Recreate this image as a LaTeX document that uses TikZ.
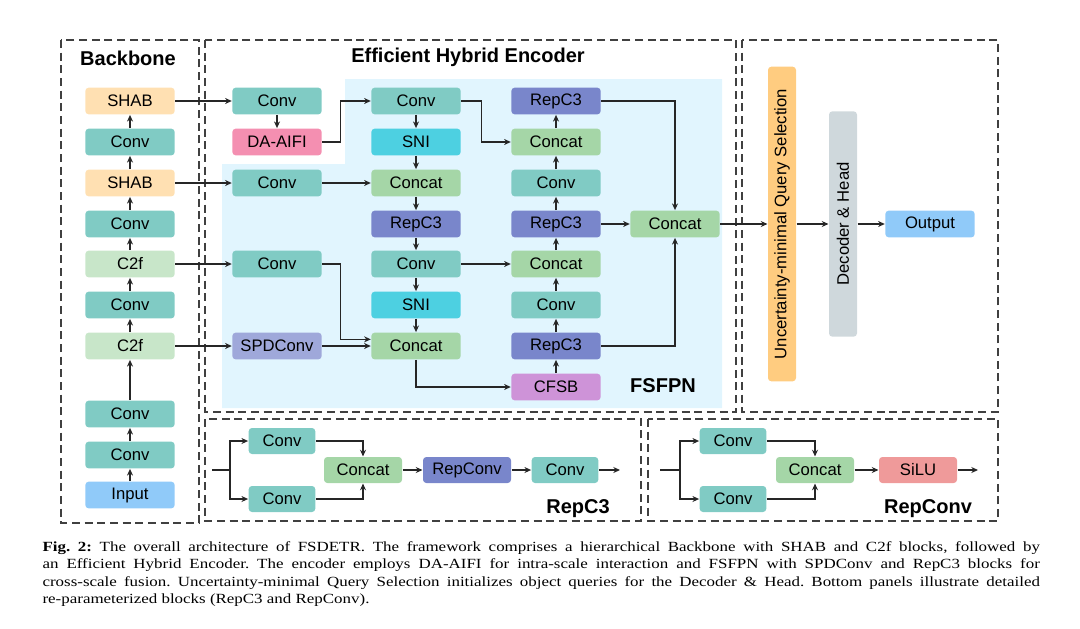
\documentclass[tikz,border=0pt]{standalone}
\usepackage{fontspec}
\setmainfont{Liberation Sans}
\newfontfamily\capfont[FakeStretch=1.21]{Liberation Serif}
\usepackage{tikz}
\usetikzlibrary{arrows.meta}
\usetikzlibrary{calc}
\tikzset{b/.style={rounded corners=2.5pt, minimum width=67pt, minimum height=20pt, inner sep=0pt, font=\fontsize{12.5}{12.5}\selectfont}}
\tikzset{s/.style={b, minimum width=50pt, minimum height=19.5pt}}
\tikzset{pn/.style={draw=black!75, line width=1.1pt, dash pattern=on 6pt off 3.5pt}}
\tikzset{t/.style={font=\bfseries\fontsize{15}{15}\selectfont}}
\definecolor{conv}{HTML}{80CBC4}
\definecolor{shab}{HTML}{FFE0B2}
\definecolor{ctwof}{HTML}{C8E6C9}
\definecolor{inp}{HTML}{90CAF9}
\definecolor{aifi}{HTML}{F48FB1}
\definecolor{sni}{HTML}{4DD0E1}
\definecolor{cat}{HTML}{A5D6A7}
\definecolor{repc}{HTML}{7986CB}
\definecolor{spd}{HTML}{9FA8DA}
\definecolor{cfsb}{HTML}{CE93D8}
\definecolor{uqs}{HTML}{FFCC80}
\definecolor{dec}{HTML}{CFD8DC}
\definecolor{silu}{HTML}{EF9A9A}
\definecolor{fpn}{HTML}{E1F5FE}

\begin{document}
\begin{tikzpicture}[x=0.75pt, y=-0.75pt, >={Stealth[length=5pt,width=4.5pt]}, line width=0.85pt, draw=black!85]
  \useasboundingbox (0,0) rectangle (1080,628);
  \fill [fpn] (345,79)--(722,79)--(722,408)--(222,408)--(222,164)--(345,164)--cycle;
  \draw [pn] (61,40) rectangle (199,523);
  \draw [pn] (205,40) rectangle (736,412);
  \draw [pn] (742,40) rectangle (998,412);
  \draw [pn] (205,419) rectangle (641,521);
  \draw [pn] (648,419) rectangle (998,521);
  \node [t] (tbb) at (128,58) {Backbone};
  \node [t] (tenc) at (468,57) {Efficient Hybrid Encoder};
  \node [t] (tfpn) at (663,386) {FSFPN};
  \node [t] (trc) at (578,509) {RepC3};
  \node [t] (trv) at (928,509) {RepConv};

  \node [b, fill=shab] (bSHABa) at (130,101) {SHAB};
  \node [b, fill=conv] (bConva) at (130,142) {Conv};
  \node [b, fill=shab] (bSHABb) at (130,183) {SHAB};
  \node [b, fill=conv] (bConvb) at (130,224) {Conv};
  \node [b, fill=ctwof] (bC2fa) at (130,264) {C2f};
  \node [b, fill=conv] (bConvc) at (130,305) {Conv};
  \node [b, fill=ctwof] (bC2fb) at (130,346) {C2f};
  \node [b, fill=conv] (bConvd) at (130,414) {Conv};
  \node [b, fill=conv] (bConve) at (130,455) {Conv};
  \node [b, fill=inp] (bIn) at (130,495) {Input};

  \node [b, fill=conv] (eConva) at (277,101) {Conv};
  \node [b, fill=aifi] (eDA) at (277,142) {DA-AIFI};
  \node [b, fill=conv] (eConvb) at (277,183) {Conv};
  \node [b, fill=conv] (eConvc) at (277,264) {Conv};
  \node [b, fill=spd] (eSPD) at (277,346) {SPDConv};

  \node [b, fill=conv] (fConva) at (416,101) {Conv};
  \node [b, fill=sni] (fSNIa) at (416,142) {SNI};
  \node [b, fill=cat] (fCata) at (416,183) {Concat};
  \node [b, fill=repc] (fRepa) at (416,224) {RepC3};
  \node [b, fill=conv] (fConvb) at (416,264) {Conv};
  \node [b, fill=sni] (fSNIb) at (416,305) {SNI};
  \node [b, fill=cat] (fCatb) at (416,346) {Concat};

  \node [b, fill=repc] (gRepa) at (556,101) {RepC3};
  \node [b, fill=cat] (gCata) at (556,142) {Concat};
  \node [b, fill=conv] (gConva) at (556,183) {Conv};
  \node [b, fill=repc] (gRepb) at (556,224) {RepC3};
  \node [b, fill=cat] (gCatb) at (556,264) {Concat};
  \node [b, fill=conv] (gConvb) at (556,305) {Conv};
  \node [b, fill=repc] (gRepc) at (556,346) {RepC3};
  \node [b, fill=cfsb] (gCFSB) at (556,387) {CFSB};
  \node [b, fill=cat] (hCat) at (675,224) {Concat};

  \node [b, fill=uqs, minimum width=21pt, minimum height=236pt] (uq) at (782,224) {\rotatebox{90}{Uncertainty-minimal Query Selection}};
  \node [b, fill=dec, minimum width=21pt, minimum height=169pt] (dh) at (843,224) {\rotatebox{90}{Decoder \& Head}};
  \node [b, fill=inp] (out) at (930,224) {Output};

  \draw [->] (bIn) -- (bConve);
  \draw [->] (bConve) -- (bConvd);
  \draw [->] (bConvd) -- (bC2fb);
  \draw [->] (bC2fb) -- (bConvc);
  \draw [->] (bConvc) -- (bC2fa);
  \draw [->] (bC2fa) -- (bConvb);
  \draw [->] (bConvb) -- (bSHABb);
  \draw [->] (bSHABb) -- (bConva);
  \draw [->] (bConva) -- (bSHABa);
  \draw [->] (bSHABa) -- (eConva);
  \draw [->] (bSHABb) -- (eConvb);
  \draw [->] (bC2fa) -- (eConvc);
  \draw [->] (bC2fb) -- (eSPD);
  \draw [->] (eConva) -- (eDA);
  \draw [->] (eDA.east) -- ++(18,0) |- (fConva.west);
  \draw [->] (eConvb) -- (fCata);
  \draw [->] (eConvc.east) -- ++(18,0) |- ([yshift=5pt]fCatb.west);
  \draw [->] (eSPD) -- (fCatb);
  \draw [->] (fConva) -- (fSNIa);
  \draw [->] (fSNIa) -- (fCata);
  \draw [->] (fCata) -- (fRepa);
  \draw [->] (fRepa) -- (fConvb);
  \draw [->] (fConvb) -- (fSNIb);
  \draw [->] (fSNIb) -- (fCatb);
  \draw [->] (fConva.east) -- ++(20,0) |- (gCata.west);
  \draw [->] (fConvb) -- (gCatb);
  \draw [->] (fCatb.south) |- (gCFSB.west);
  \draw [->] (gCFSB) -- (gRepc);
  \draw [->] (gRepc) -- (gConvb);
  \draw [->] (gConvb) -- (gCatb);
  \draw [->] (gCatb) -- (gRepb);
  \draw [->] (gRepb) -- (gConva);
  \draw [->] (gConva) -- (gCata);
  \draw [->] (gCata) -- (gRepa);
  \draw [->] (gRepa.east) -| (hCat.north);
  \draw [->] (gRepb) -- (hCat);
  \draw [->] (gRepc.east) -| (hCat.south);
  \draw [->] (hCat) -- (uq);
  \draw [->] (uq) -- (dh);
  \draw [->] (dh) -- (out);

  \node [s, fill=conv] (rConva) at (282,441) {Conv};
  \node [s, fill=conv] (rConvb) at (282,499) {Conv};
  \node [s, fill=cat, minimum width=58.5pt] (rCat) at (363,470) {Concat};
  \node [s, fill=repc, minimum width=66pt] (rRep) at (467,470) {RepConv};
  \node [s, fill=conv] (rConvc) at (565,470) {Conv};
  \coordinate (rIn) at (212,470);
  \coordinate (rBr) at (230,470);
  \coordinate (rOut) at (620,470);
  \draw (rIn) -- (rBr);
  \draw [->] (rBr) |- (rConva.west);
  \draw [->] (rBr) |- (rConvb.west);
  \draw [->] (rConva.east) -| (rCat.north);
  \draw [->] (rConvb.east) -| (rCat.south);
  \draw [->] (rCat) -- (rRep);
  \draw [->] (rRep) -- (rConvc);
  \draw [->] (rConvc) -- (rOut);

  \node [s, fill=conv] (pConva) at (733,441) {Conv};
  \node [s, fill=conv] (pConvb) at (733,499) {Conv};
  \node [s, fill=cat, minimum width=58.5pt] (pCat) at (815,470) {Concat};
  \node [s, fill=silu, minimum width=58.5pt] (pSiLU) at (918,470) {SiLU};
  \coordinate (pIn) at (660,470);
  \coordinate (pBr) at (680,470);
  \coordinate (pOut) at (978,470);
  \draw (pIn) -- (pBr);
  \draw [->] (pBr) |- (pConva.west);
  \draw [->] (pBr) |- (pConvb.west);
  \draw [->] (pConva.east) -| (pCat.north);
  \draw [->] (pConvb.east) -| (pCat.south);
  \draw [->] (pCat) -- (pSiLU);
  \draw [->] (pSiLU) -- (pOut);

  \node [anchor=north west, inner sep=0pt, text width=748pt, align=justify, font=\capfont\fontsize{10.5}{13}\selectfont] (cap) at (42,541)
    {\frenchspacing\hyphenpenalty=10000 \textbf{Fig.~2:} The overall architecture of FSDETR. The framework comprises a hierarchical Backbone with SHAB and C2f blocks, followed by\linebreak an Efficient Hybrid Encoder. The encoder employs DA-AIFI for intra-scale interaction and FSFPN with SPDConv and RepC3 blocks for\linebreak cross-scale fusion. Uncertainty-minimal Query Selection initializes object queries for the Decoder \& Head. Bottom panels illustrate detailed\linebreak re-parameterized blocks (RepC3 and RepConv).};
\end{tikzpicture}
\end{document}
